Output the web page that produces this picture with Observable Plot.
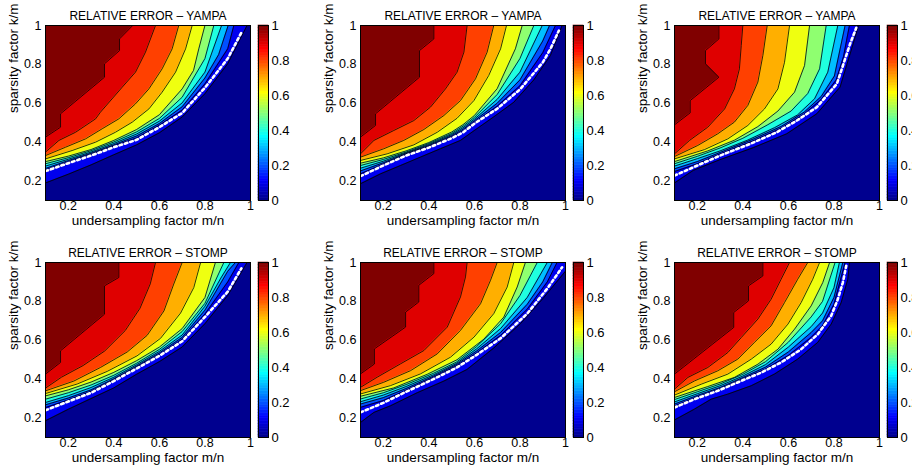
<!DOCTYPE html>
<html>
<head>
<meta charset="utf-8">
<script src="https://cdn.jsdelivr.net/npm/d3@7"></script>
<script src="https://cdn.jsdelivr.net/npm/@observablehq/plot@0.6"></script>
<style>
  body { margin: 0; background: #fff; }
  #fig { position: relative; width: 912px; height: 469px; overflow: hidden; background: #fff; }
  #fig > div { position: absolute; overflow: visible; }
  #fig svg { max-width: none !important; }
</style>
</head>
<body>
<div id="fig"></div>
<script>
// ---------- data ----------
const levels = [0.1, 0.2, 0.3, 0.4, 0.5, 0.6, 0.7, 0.8, 0.9, 1.0];
const axisTicks = [0.2, 0.4, 0.6, 0.8, 1];
const colorbarTicks = [0, 0.2, 0.4, 0.6, 0.8, 1];
const xDomain = [0.1, 1];
const yDomain = [0.1, 1];
const titles = ["RELATIVE ERROR \u2013 YAMPA", "RELATIVE ERROR \u2013 YAMPA", "RELATIVE ERROR \u2013 YAMPA",
                "RELATIVE ERROR \u2013 STOMP", "RELATIVE ERROR \u2013 STOMP", "RELATIVE ERROR \u2013 STOMP"];
const xLabel = "undersampling factor m/n";
const yLabel = "sparsity factor k/m";

// contour lines (one list of [m/n, k/m] points per level 0.1 ... 1.0)
const yampa1 = [
  [[.1,.19],[.2,.235],[.3,.283],[.4,.335],[.5,.386],[.6,.448],[.7,.529],[.8,.649],[.9,.803],[.985,1]],
  [[.1,.257],[.2,.298],[.3,.337],[.4,.38],[.5,.422],[.6,.487],[.7,.565],[.8,.7],[.9,.88],[.927,1]],
  [[.1,.265],[.2,.305],[.3,.343],[.4,.386],[.5,.432],[.6,.496],[.7,.582],[.8,.73],[.86,.85],[.902,1]],
  [[.1,.277],[.2,.312],[.3,.349],[.4,.393],[.5,.442],[.6,.508],[.7,.602],[.8,.76],[.873,1]],
  [[.1,.289],[.2,.32],[.3,.356],[.4,.401],[.5,.453],[.6,.522],[.7,.631],[.8,.83],[.839,1]],
  [[.1,.3],[.2,.328],[.3,.362],[.4,.409],[.5,.465],[.6,.541],[.7,.674],[.75,.769],[.773,.88],[.8,1]],
  [[.1,.314],[.217,.357],[.32,.4],[.407,.451],[.481,.503],[.554,.571],[.612,.657],[.671,.76],[.715,.88],[.744,1]],
  [[.1,.331],[.188,.374],[.276,.417],[.349,.469],[.422,.52],[.495,.597],[.554,.674],[.612,.777],[.656,.88],[.685,1]],
  [[.1,.349],[.159,.409],[.232,.451],[.32,.52],[.341,.554],[.437,.683],[.495,.76],[.539,.863],[.583,1]],
  [[.1,.426],[.166,.477],[.166,.546],[.359,.734],[.359,.803],[.425,.871],[.425,.931],[.483,1]]
];
const yampa1Dash = [[.1,.251],[.2,.292],[.3,.331],[.4,.374],[.5,.412],[.6,.477],[.7,.55],[.8,.68],[.9,.83],[.963,.97]];

const yampa2 = [
  [[.1,.186],[.188,.237],[.276,.28],[.363,.323],[.451,.366],[.539,.409],[.6,.46],[.685,.53],[.773,.605],[.861,.72],[.934,.846],[.985,1]],
  [[.1,.237],[.2,.287],[.3,.337],[.4,.378],[.5,.427],[.55,.458],[.6,.502],[.7,.585],[.8,.69],[.9,.86],[.956,1]],
  [[.1,.252],[.2,.294],[.3,.341],[.4,.383],[.5,.433],[.55,.466],[.6,.51],[.7,.6],[.8,.72],[.9,.92],[.93,1]],
  [[.1,.266],[.2,.302],[.3,.345],[.4,.388],[.5,.439],[.55,.474],[.6,.518],[.7,.62],[.8,.76],[.898,1]],
  [[.1,.28],[.2,.311],[.3,.349],[.4,.393],[.5,.445],[.55,.482],[.6,.527],[.7,.645],[.8,.83],[.861,1]],
  [[.1,.292],[.2,.319],[.3,.355],[.4,.398],[.5,.452],[.55,.49],[.6,.537],[.7,.675],[.78,.88],[.81,1]],
  [[.1,.306],[.217,.34],[.334,.386],[.437,.451],[.524,.523],[.598,.614],[.663,.743],[.715,.88],[.741,1]],
  [[.1,.323],[.202,.366],[.29,.409],[.378,.465],[.466,.537],[.539,.614],[.605,.726],[.656,.863],[.685,1]],
  [[.1,.34],[.159,.409],[.246,.46],[.334,.511],[.407,.58],[.473,.674],[.524,.76],[.554,.863],[.568,1]],
  [[.1,.426],[.166,.486],[.166,.546],[.359,.734],[.359,.871],[.422,.931],[.422,1]]
];
const yampa2Dash = [[.1,.225],[.2,.28],[.3,.331],[.4,.372],[.5,.42],[.55,.45],[.583,.48],[.612,.505],[.7,.572],[.8,.671],[.9,.81],[.934,.88],[.971,.974]];

const yampa3 = [
  [[.1,.19],[.183,.255],[.3,.31],[.447,.372],[.593,.443],[.725,.546],[.827,.683],[.857,.8],[.883,.9],[.908,1]],
  [[.1,.249],[.2,.289],[.3,.339],[.45,.409],[.57,.473],[.67,.545],[.744,.62],[.81,.72],[.842,.84],[.868,1]],
  [[.1,.263],[.2,.3],[.3,.347],[.45,.418],[.57,.482],[.67,.555],[.744,.635],[.802,.74],[.849,1]],
  [[.1,.277],[.2,.315],[.3,.355],[.42,.41],[.54,.475],[.64,.54],[.715,.623],[.773,.76],[.817,1]],
  [[.1,.289],[.2,.327],[.3,.37],[.4,.42],[.51,.49],[.612,.56],[.685,.65],[.737,.777],[.766,1]],
  [[.1,.3],[.246,.355],[.363,.41],[.466,.48],[.554,.56],[.627,.657],[.671,.794],[.693,1]],
  [[.1,.314],[.232,.362],[.334,.417],[.422,.486],[.495,.571],[.554,.674],[.583,.811],[.605,1]],
  [[.1,.326],[.202,.383],[.29,.443],[.363,.503],[.422,.589],[.466,.709],[.488,.846],[.507,1]],
  [[.1,.34],[.166,.409],[.246,.477],[.32,.571],[.363,.674],[.385,.777],[.393,.897],[.4,1]],
  [[.1,.489],[.169,.551],[.169,.614],[.295,.734],[.236,.803],[.236,.871],[.295,.931],[.295,1]]
];
const yampa3Dash = [[.1,.228],[.183,.271],[.3,.331],[.432,.391],[.549,.451],[.637,.511],[.725,.58],[.813,.7],[.842,.803],[.871,.906],[.898,.988]];

const stomp1 = [
  [[.1,.186],[.2,.245],[.3,.3],[.4,.355],[.5,.425],[.6,.49],[.7,.565],[.8,.685],[.9,.83],[.985,1]],
  [[.1,.254],[.2,.293],[.3,.337],[.4,.396],[.5,.461],[.6,.527],[.7,.605],[.8,.735],[.9,.9],[.949,1]],
  [[.1,.268],[.2,.303],[.3,.345],[.4,.402],[.5,.467],[.6,.535],[.7,.615],[.8,.755],[.9,.955],[.934,1]],
  [[.1,.28],[.2,.315],[.3,.357],[.4,.41],[.5,.474],[.6,.543],[.7,.627],[.8,.775],[.87,.92],[.912,1]],
  [[.1,.297],[.2,.33],[.3,.37],[.4,.42],[.5,.482],[.6,.553],[.7,.645],[.8,.79],[.883,1]],
  [[.1,.314],[.2,.345],[.3,.385],[.4,.435],[.5,.495],[.6,.565],[.7,.66],[.8,.82],[.846,1]],
  [[.1,.326],[.239,.375],[.371,.44],[.502,.52],[.605,.61],[.693,.74],[.751,.871],[.781,1]],
  [[.1,.34],[.224,.39],[.341,.46],[.459,.54],[.546,.625],[.62,.751],[.663,.889],[.7,1]],
  [[.1,.354],[.17,.41],[.265,.47],[.36,.545],[.45,.65],[.515,.765],[.56,.89],[.583,1]],
  [[.1,.426],[.166,.486],[.166,.546],[.359,.734],[.359,.88],[.422,.923],[.422,1]]
];
const stomp1Dash = [[.1,.24],[.2,.285],[.3,.33],[.4,.39],[.5,.455],[.6,.52],[.7,.595],[.8,.72],[.9,.85],[.96,.97]];

const stomp2 = [
  [[.1,.177],[.159,.229],[.232,.263],[.349,.33],[.466,.39],[.568,.45],[.685,.56],[.802,.685],[.905,.82],[1,.955]],
  [[.1,.255],[.2,.29],[.3,.343],[.42,.408],[.52,.467],[.61,.535],[.715,.625],[.832,.76],[.92,.9],[.963,1]],
  [[.1,.272],[.2,.305],[.3,.352],[.42,.415],[.52,.474],[.61,.545],[.715,.64],[.832,.785],[.9,.9],[.942,1]],
  [[.1,.284],[.2,.318],[.3,.362],[.42,.422],[.52,.48],[.61,.556],[.715,.66],[.832,.82],[.92,1]],
  [[.1,.298],[.2,.33],[.3,.372],[.42,.43],[.52,.487],[.61,.568],[.715,.685],[.8,.83],[.876,1]],
  [[.1,.312],[.246,.355],[.393,.425],[.524,.5],[.641,.605],[.729,.719],[.788,.874],[.824,1]],
  [[.1,.324],[.232,.367],[.363,.427],[.495,.513],[.598,.616],[.685,.737],[.744,.874],[.773,1]],
  [[.1,.341],[.202,.384],[.32,.444],[.437,.53],[.539,.651],[.627,.788],[.671,.909],[.7,1]],
  [[.1,.358],[.173,.41],[.276,.479],[.378,.547],[.481,.668],[.539,.823],[.561,.926],[.568,1]],
  [[.1,.427],[.161,.478],[.161,.556],[.298,.668],[.298,.745],[.356,.797],[.356,.883],[.422,.943],[.422,1]]
];
const stomp2Dash = [[.1,.229],[.2,.278],[.3,.335],[.42,.4],[.52,.458],[.61,.525],[.715,.61],[.832,.737],[.92,.866],[.985,.975]];

const stomp3 = [
  [[.1,.19],[.188,.246],[.261,.297],[.334,.323],[.437,.366],[.539,.426],[.641,.503],[.729,.589],[.788,.683],[.832,.794],[.861,.914],[.868,1]],
  [[.1,.262],[.2,.308],[.3,.35],[.4,.401],[.5,.452],[.6,.522],[.7,.615],[.75,.675],[.8,.785],[.849,1]],
  [[.1,.272],[.2,.316],[.3,.357],[.4,.408],[.5,.462],[.6,.54],[.7,.64],[.75,.7],[.8,.82],[.839,1]],
  [[.1,.283],[.2,.325],[.3,.366],[.4,.416],[.5,.475],[.6,.565],[.7,.67],[.75,.74],[.8,.87],[.824,1]],
  [[.1,.295],[.2,.335],[.3,.375],[.4,.425],[.5,.49],[.6,.59],[.7,.72],[.75,.8],[.805,1]],
  [[.1,.306],[.246,.362],[.363,.409],[.466,.477],[.554,.554],[.627,.657],[.7,.777],[.751,.897],[.781,1]],
  [[.1,.318],[.217,.374],[.334,.426],[.437,.503],[.524,.58],[.598,.683],[.656,.794],[.707,.914],[.737,1]],
  [[.1,.335],[.188,.391],[.29,.443],[.378,.503],[.451,.589],[.524,.674],[.583,.794],[.641,.914],[.685,1]],
  [[.1,.349],[.159,.409],[.246,.46],[.334,.537],[.393,.614],[.466,.709],[.524,.811],[.568,.914],[.605,1]],
  [[.1,.426],[.36,.666],[.36,.743],[.425,.803],[.425,.88],[.488,.931],[.488,1]]
];
const stomp3Dash = [[.1,.254],[.188,.297],[.29,.34],[.393,.391],[.481,.434],[.568,.486],[.656,.554],[.729,.631],[.788,.726],[.817,.811],[.839,.897],[.854,.983]];

// ---------- rendering ----------
const FONT = '"Liberation Sans", Arial, Helvetica, sans-serif';
const fmt = d => String(d);

// MATLAB jet(64) colormap
function jet(t) {
  const i = Math.max(1, Math.min(64, Math.floor(t * 64 + 1e-9) + 1));
  const u = k => (k < 1 || k > 47) ? 0 : k <= 16 ? k / 16 : k <= 31 ? 1 : (48 - k) / 16;
  return `rgb(${Math.round(255 * u(i - 24))},${Math.round(255 * u(i - 8))},${Math.round(255 * u(i + 8))})`;
}
const colorScale = {type: "linear", domain: [0, 1], interpolate: jet};
const fig = document.getElementById("fig");

function place(node, left, top, w, h) {
  const d = document.createElement("div");
  d.style.left = left + "px";
  d.style.top = top + "px";
  d.style.width = w + "px";
  d.style.height = h + "px";
  d.appendChild(node);
  fig.appendChild(d);
}

const baseStyle = {fontFamily: FONT, fontSize: "13px", background: "transparent", overflow: "visible", color: "black", maxWidth: "none"};

function panel(curves, dash, title, left, top) {
  const pts = curves.flatMap((c, i) => c.map(([x, y]) => ({x, y, level: levels[i]})));
  const dashPts = dash.map(([x, y]) => ({x, y}));
  const chart = Plot.plot({
    width: 252, height: 234,
    marginLeft: 45, marginRight: 2, marginTop: 25, marginBottom: 34,
    style: baseStyle,
    x: {domain: xDomain},
    y: {domain: yDomain},
    color: colorScale,
    marks: [
      Plot.frame({fill: jet(0)}),
      Plot.areaY(pts, {x: "x", y1: "y", y2: () => yDomain[1], z: "level", fill: "level", clip: true}),
      Plot.line(pts, {x: "x", y: "y", z: "level", stroke: "black", strokeWidth: 0.8, clip: true}),
      Plot.line(dashPts, {x: "x", y: "y", stroke: "white", strokeWidth: 2.6, strokeDasharray: "2.6 3", clip: true}),
      Plot.frame({stroke: "black", strokeWidth: 1}),
      Plot.axisX({ticks: axisTicks, tickFormat: fmt, tickSize: 0, tickPadding: 1, fontSize: 12.5, label: null}),
      Plot.axisY({ticks: axisTicks, tickFormat: fmt, tickSize: 0, tickPadding: 4, fontSize: 12.5, label: null}),
      Plot.text([title], {text: d => d, frameAnchor: "top", dy: -14, fontSize: 12}),
      Plot.text([xLabel], {text: d => d, frameAnchor: "bottom", dy: 24, fontSize: 13.5}),
      Plot.text([yLabel], {text: d => d, frameAnchor: "left", dx: -32, rotate: -90, fontSize: 13.5})
    ]
  });
  place(chart, left, top, 252, 234);
}

function colorbar(left, top) {
  const cells = d3.range(64).map(i => ({y1: i / 64, y2: (i + 1) / 64, v: (i + 0.5) / 64}));
  const chart = Plot.plot({
    width: 50, height: 234,
    marginLeft: 0, marginRight: 40, marginTop: 25, marginBottom: 34,
    style: baseStyle,
    x: {domain: [0, 1], axis: null},
    y: {domain: [0, 1], axis: "right", ticks: colorbarTicks, tickFormat: fmt, tickSize: 0, tickPadding: 3, label: null},
    color: colorScale,
    marks: [
      Plot.rect(cells, {x1: () => 0, x2: () => 1, y1: "y1", y2: "y2", fill: "v", stroke: "v", strokeWidth: 0.6}),
      Plot.frame({stroke: "black"})
    ]
  });
  place(chart, left, top, 50, 234);
}

const panels = [[yampa1, yampa1Dash], [yampa2, yampa2Dash], [yampa3, yampa3Dash],
                [stomp1, stomp1Dash], [stomp2, stomp2Dash], [stomp3, stomp3Dash]];
const colLeft = [0, 315, 629];
const barLeft = [258, 573, 887];
const rowTop = [0, 237];
panels.forEach(([c, d], i) => {
  const col = i % 3, row = Math.floor(i / 3);
  panel(c, d, titles[i], colLeft[col], rowTop[row]);
  colorbar(barLeft[col], rowTop[row]);
});
</script>
</body>
</html>
